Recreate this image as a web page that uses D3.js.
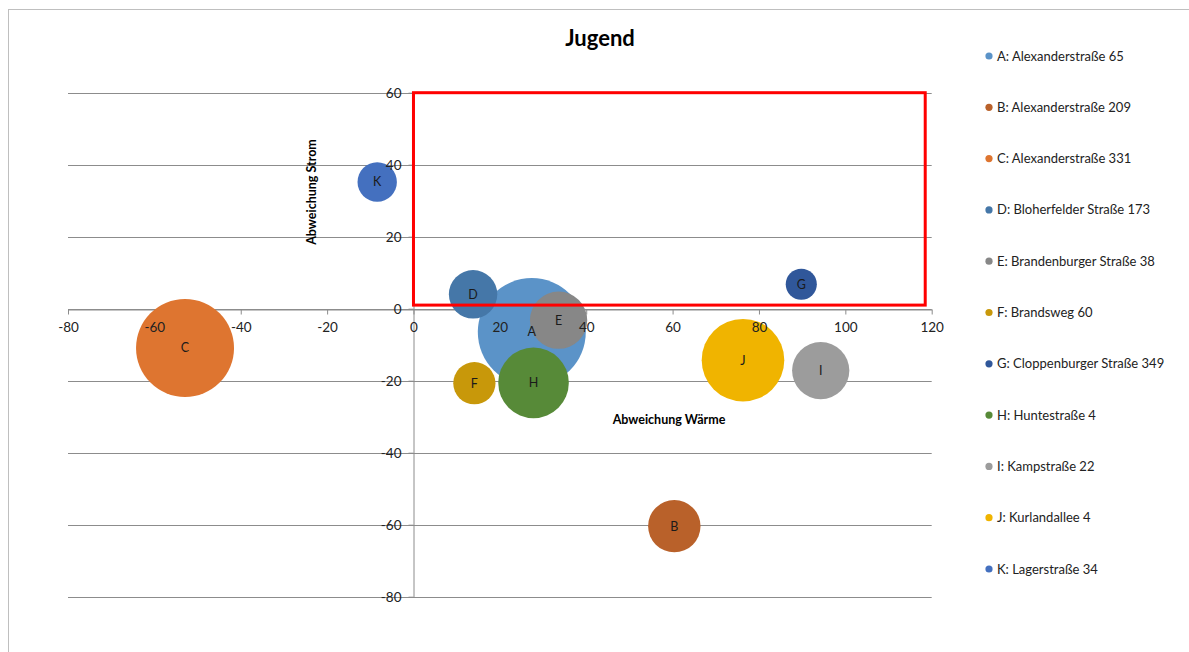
<!DOCTYPE html>
<html>
<head>
<meta charset="utf-8">
<script src="https://cdn.jsdelivr.net/npm/d3@7"></script>
<style>
  html, body { margin: 0; padding: 0; background: #fff; }
  svg { display: block; }
  text { font-family: Lato, "Open Sans", sans-serif; }
</style>
</head>
<body>
<svg id="chart" width="1189" height="652"></svg>
<script>
// Bubble data: one bubble per site
const ids = ["A", "B", "C", "D", "E", "F", "G", "H", "I", "J", "K"];
const names = [
  "A: Alexanderstraße 65",
  "B: Alexanderstraße 209",
  "C: Alexanderstraße 331",
  "D: Bloherfelder Straße 173",
  "E: Brandenburger Straße 38",
  "F: Brandsweg 60",
  "G: Cloppenburger Straße 349",
  "H: Huntestraße 4",
  "I: Kampstraße 22",
  "J: Kurlandallee 4",
  "K: Lagerstraße 34"
];
const waerme = [27.4, 60.4, -52.9, 13.8, 33.6, 14.1, 89.8, 27.8, 94.3, 76.3, -8.4];
const strom  = [-6.5, -60.4, -10.9, 4.0, -3.2, -20.7, 6.8, -20.6, -17.2, -14.3, 35.2];
const groesse = [100, 23.5, 82.3, 20.1, 28.1, 15.3, 8.3, 42.7, 28.1, 58.5, 13.3];
const colors = ["#5b93c8", "#b9612a", "#de7530", "#4577a8", "#878787", "#c8980a",
                "#30579a", "#578a38", "#9c9c9c", "#f0b400", "#4470bf"];

// Axis ticks
const xTicks = [-80, -60, -40, -20, 0, 20, 40, 60, 80, 100, 120];
const yTicks = [-80, -60, -40, -20, 0, 20, 40, 60];

// Target zone (Wärme from..to, Strom from..to)
const zoneX = [0, 118.5];
const zoneY = [1, 60];

const svg = d3.select("#chart");

// Outer chart frame
svg.append("rect")
  .attr("x", 8.5).attr("y", 9.5)
  .attr("width", 1300).attr("height", 800)
  .attr("fill", "#fff").attr("stroke", "#bfbfbf").attr("stroke-width", 1);

const x = d3.scaleLinear().domain([-80, 120]).range([68, 931.7]);
const y = d3.scaleLinear().domain([-80, 60]).range([596.7, 92.7]);
const r = d3.scaleSqrt().domain([0, 100]).range([0, 54]);

const gridColor = "#8c8c8c";
const plainNumber = d => String(d);
const x0 = Math.round(y(0)) + 0.5;
const y0 = Math.round(x(0)) + 0.5;

// Horizontal gridlines
svg.append("g")
  .selectAll("line")
  .data(yTicks)
  .join("line")
  .attr("x1", x(-80)).attr("x2", x(120))
  .attr("y1", d => Math.round(y(d)) + 0.5).attr("y2", d => Math.round(y(d)) + 0.5)
  .attr("stroke", gridColor).attr("stroke-width", 1);

// Axis lines and tick marks (beneath the bubbles)
function styleLines(g) {
  g.select(".domain").attr("stroke", gridColor);
  g.selectAll(".tick line").attr("stroke", gridColor);
  g.selectAll(".tick text").remove();
}
svg.append("g")
  .attr("transform", `translate(0,${x0})`)
  .call(d3.axisBottom(x).tickValues(xTicks).tickSizeInner(5).tickSizeOuter(0))
  .call(styleLines);
svg.append("g")
  .attr("transform", `translate(${y0},0)`)
  .call(d3.axisLeft(y).tickValues(yTicks).tickSizeInner(5).tickSizeOuter(0))
  .call(styleLines);

// Bubbles
const rows = ids.map((id, i) => ({
  id, name: names[i], wx: waerme[i], sy: strom[i], size: groesse[i], color: colors[i]
}));

const bubbles = svg.append("g");
bubbles.selectAll("circle")
  .data(rows)
  .join("circle")
  .attr("cx", d => x(d.wx))
  .attr("cy", d => y(d.sy))
  .attr("r", d => r(d.size))
  .attr("fill", d => d.color);

bubbles.selectAll("text")
  .data(rows)
  .join("text")
  .attr("x", d => x(d.wx))
  .attr("y", d => y(d.sy))
  .attr("dy", "0.35em")
  .attr("text-anchor", "middle")
  .attr("font-size", 12.5)
  .attr("fill", "#1a1a1a")
  .text(d => d.id);

// Target zone outline
svg.append("rect")
  .attr("x", x(zoneX[0]))
  .attr("y", y(zoneY[1]))
  .attr("width", x(zoneX[1]) - x(zoneX[0]))
  .attr("height", y(zoneY[0]) - y(zoneY[1]))
  .attr("fill", "none")
  .attr("stroke", "#ff0000")
  .attr("stroke-width", 3);

// Tick labels (on top of the bubbles)
function styleLabels(g) {
  g.select(".domain").remove();
  g.selectAll(".tick line").remove();
  g.selectAll(".tick text")
    .attr("font-family", "Lato, sans-serif").attr("font-size", 13.5).attr("fill", "#222");
}
svg.append("g")
  .attr("transform", `translate(0,${x0})`)
  .call(d3.axisBottom(x).tickValues(xTicks).tickFormat(plainNumber).tickSizeInner(5).tickPadding(8))
  .call(styleLabels);
svg.append("g")
  .attr("transform", `translate(${y0},0)`)
  .call(d3.axisLeft(y).tickValues(yTicks).tickFormat(plainNumber).tickSizeInner(5).tickPadding(7))
  .call(styleLabels);

// Title
svg.append("text")
  .attr("x", 600).attr("y", 46)
  .attr("text-anchor", "middle")
  .attr("font-size", 22).attr("font-weight", "bold").attr("fill", "#000")
  .text("Jugend");

// Axis titles
svg.append("text")
  .attr("x", 669).attr("y", 424)
  .attr("text-anchor", "middle")
  .attr("font-size", 12.5).attr("font-weight", "bold").attr("fill", "#000")
  .text("Abweichung Wärme");

svg.append("text")
  .attr("transform", "translate(316,192) rotate(-90)")
  .attr("text-anchor", "middle")
  .attr("font-size", 12.5).attr("font-weight", "bold").attr("fill", "#000")
  .text("Abweichung Strom");

// Legend
const legend = svg.append("g")
  .selectAll("g")
  .data(rows)
  .join("g")
  .attr("transform", (d, i) => `translate(989,${56 + i * 51.3})`);

legend.append("circle")
  .attr("r", 3.6)
  .attr("fill", d => d.color);

legend.append("text")
  .attr("x", 8).attr("dy", "0.35em")
  .attr("font-size", 13).attr("fill", "#222")
  .text(d => d.name);
</script>
</body>
</html>
